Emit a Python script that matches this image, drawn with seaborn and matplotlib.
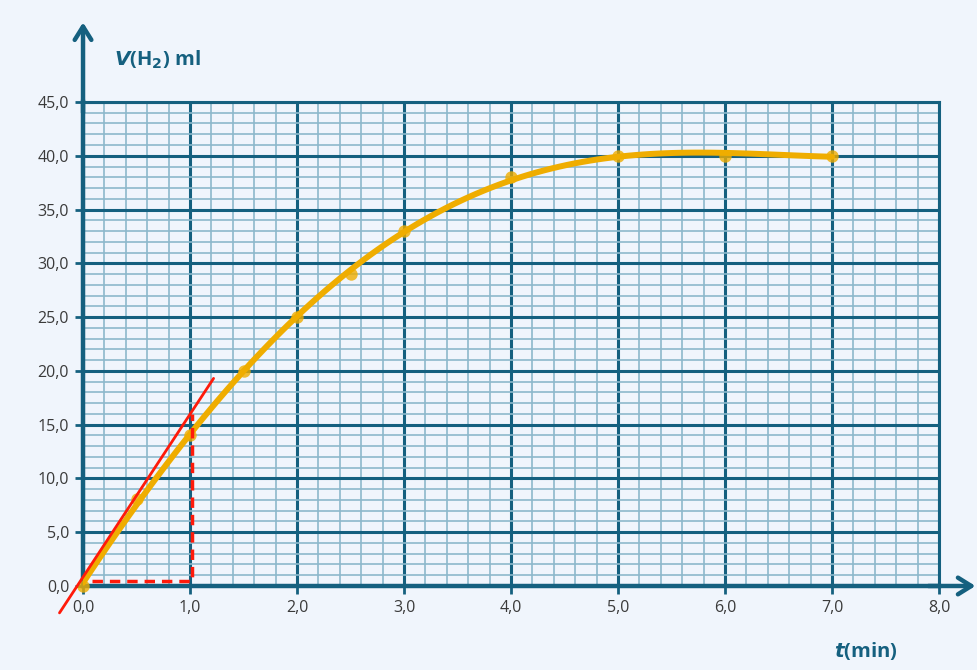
import numpy as np
import pandas as pd
import matplotlib
matplotlib.use('Agg')
import matplotlib.pyplot as plt
from matplotlib.ticker import MultipleLocator, FuncFormatter
import seaborn as sns

# measured points
t_min = [0.0, 0.5, 1.0, 1.5, 2.0, 2.5, 3.0, 4.0, 5.0, 6.0, 7.0]
v_h2 = [0.0, 8.1, 14.0, 20.0, 25.0, 29.0, 33.0, 38.0, 40.0, 40.0, 40.0]

# tangent at t = 0 and the helper triangle
tangent_t = [-0.22, 1.22]
tangent_v = [-2.5, 19.3]
helper_t = [0.08, 1.02, 1.02]
helper_v = [0.5, 0.5, 16.0]

x_ticks = [0, 1, 2, 3, 4, 5, 6, 7, 8]
y_ticks = [0, 5, 10, 15, 20, 25, 30, 35, 40, 45]

dark = '#15607f'
light = '#8db8cb'
gold = '#efad00'
bg = '#f0f5fc'

df = pd.DataFrame({'t': t_min, 'V': v_h2})

sns.set_theme(style='white')
plt.rcParams['font.family'] = ['Open Sans', 'DejaVu Sans']

fig = plt.figure(figsize=(9.78, 6.70), dpi=100, facecolor=bg)
ax = fig.add_axes([0.0849, 0.1254, 0.8753, 0.7224])
ax.set_facecolor(bg)

ax.set_xlim(0, 8)
ax.set_ylim(0, 45)
ax.xaxis.set_major_locator(MultipleLocator(1))
ax.xaxis.set_minor_locator(MultipleLocator(0.2))
ax.yaxis.set_major_locator(MultipleLocator(5))
ax.yaxis.set_minor_locator(MultipleLocator(1))
ax.grid(which='minor', color=light, linewidth=1.2)
ax.grid(which='major', color=dark, linewidth=2.2)
ax.set_axisbelow(True)

fmt = FuncFormatter(lambda v, p: f'{v:.1f}'.replace('.', ','))
ax.xaxis.set_major_formatter(fmt)
ax.yaxis.set_major_formatter(fmt)
ax.set_xticks(x_ticks)
ax.set_yticks(y_ticks)
ax.tick_params(which='major', length=6, width=2, color=dark, labelsize=11.5,
               labelcolor='#3a3a3a', direction='out', pad=4)
ax.tick_params(which='minor', length=0)
ax.tick_params(axis='x', which='major', bottom=True)
ax.tick_params(axis='y', which='major', left=True)

for side in ['top', 'right']:
    ax.spines[side].set_color(dark)
    ax.spines[side].set_linewidth(2.2)
for side in ['left', 'bottom']:
    ax.spines[side].set_color(dark)
    ax.spines[side].set_linewidth(3.2)

# axis arrows
ax.annotate('', xy=(0, 52.4), xytext=(0, 44), annotation_clip=False,
            arrowprops=dict(arrowstyle='->,head_length=0.8,head_width=0.5',
                            color=dark, lw=3.2, shrinkA=0, shrinkB=0))
ax.annotate('', xy=(8.34, 0), xytext=(7.9, 0), annotation_clip=False,
            arrowprops=dict(arrowstyle='->,head_length=0.8,head_width=0.5',
                            color=dark, lw=3.2, shrinkA=0, shrinkB=0))

# measured curve: fitted smooth curve plus points
sns.regplot(data=df, x='t', y='V', order=4, ci=None, ax=ax, color=gold,
            scatter_kws=dict(s=80, zorder=4, clip_on=False, linewidths=0),
            line_kws=dict(lw=4.3, zorder=4, solid_capstyle='round'))

# tangent and helper lines
ax.plot(tangent_t, tangent_v, color='#ff1a0a', lw=2.0, zorder=5, clip_on=False)
ax.plot(helper_t, helper_v, color='#ff1a0a', lw=2.5, ls=(0, (3, 2)), zorder=5)

ax.set_xlabel('')
ax.set_ylabel('')

fig.text(0.117, 0.902, r'$\boldsymbol{V}$(H$_\mathbf{2}$) ml', color=dark,
         fontsize=14.5, fontweight='bold')
fig.text(0.853, 0.02, r'$\boldsymbol{t}$(min)', color=dark,
         fontsize=14.5, fontweight='bold')

fig.savefig('out.png', dpi=100, facecolor=bg)
